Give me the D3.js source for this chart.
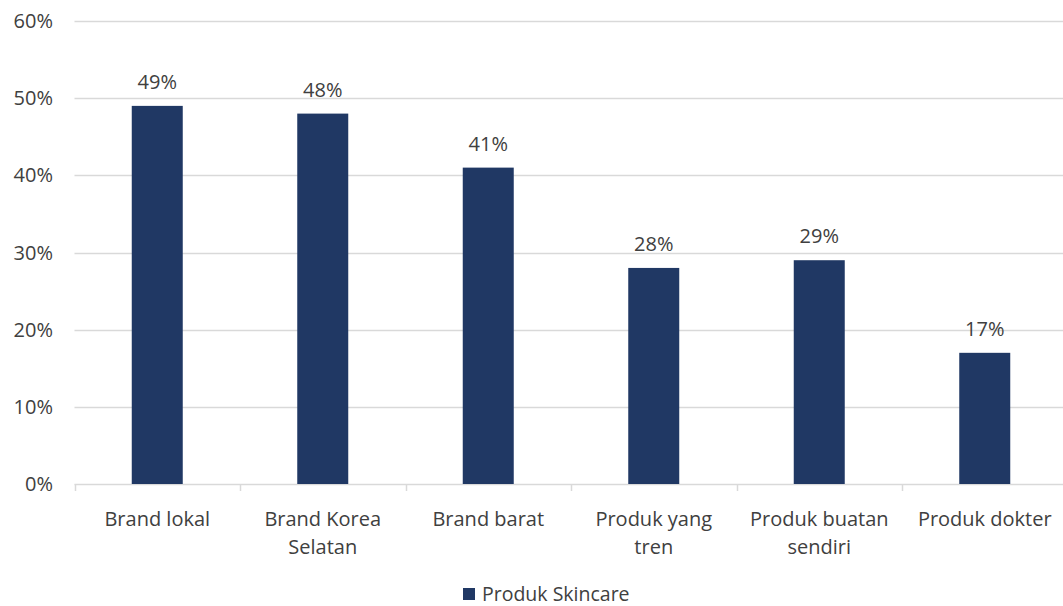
<!DOCTYPE html>
<html lang="id">
<head>
  <meta charset="UTF-8">
  <title>Produk Skincare</title>
  <script src="https://d3js.org/d3.v7.min.js"></script>
  <style>
    body { margin: 0; background: #fff; font-family: "Open Sans", sans-serif; }
    svg { display: block; overflow: hidden; }
    .axis text, .label, .legend text { fill: #404040; font-size: 20px; }
  </style>
</head>
<body>
  <div id="chart"></div>

  <script>
    // data
    const categories = [["Brand lokal"], ["Brand Korea", "Selatan"], ["Brand barat"],
                        ["Produk yang", "tren"], ["Produk buatan", "sendiri"], ["Produk dokter"]];
    const values = [49, 48, 41, 28, 29, 17];
    const yTicks = [0, 10, 20, 30, 40, 50, 60];
    const seriesName = "Produk Skincare";

    const W = 1063, H = 606;
    const color = "#203864";

    const svg = d3.select("#chart").append("svg")
                  .attr("width", W)
                  .attr("height", H);

    const x = d3.scaleBand()
                .domain(d3.range(categories.length))
                .range([74.5, 1067.5]);

    const y = d3.scaleLinear()
                .domain([0, 60])
                .range([484, 21]);

    // gridlines
    svg.selectAll(".grid")
       .data(yTicks)
       .enter()
       .append("line")
       .attr("x1", 74.5)
       .attr("x2", 1067.5)
       .attr("y1", d => Math.round(y(d)) + 0.5)
       .attr("y2", d => Math.round(y(d)) + 0.5)
       .attr("stroke", "#d9d9d9")
       .attr("stroke-width", 1.5);

    // y labels
    svg.append("g")
       .attr("class", "axis")
       .selectAll("text")
       .data(yTicks)
       .enter()
       .append("text")
       .attr("x", 53)
       .attr("y", d => y(d))
       .attr("dy", "0.35em")
       .attr("text-anchor", "end")
       .text(d => d + "%");

    // x tick marks
    svg.selectAll(".xtick")
       .data(d3.range(categories.length + 1))
       .enter()
       .append("line")
       .attr("x1", i => Math.round(74.5 + i * x.step()) + 0.5)
       .attr("x2", i => Math.round(74.5 + i * x.step()) + 0.5)
       .attr("y1", 484)
       .attr("y2", 491)
       .attr("stroke", "#d9d9d9")
       .attr("stroke-width", 1.5);

    // bars
    const barW = 51;
    svg.selectAll(".bar")
       .data(values)
       .enter()
       .append("rect")
       .attr("class", "bar")
       .attr("x", (d, i) => x(i) + x.bandwidth() / 2 - barW / 2)
       .attr("y", d => y(d))
       .attr("width", barW)
       .attr("height", d => y(0) - y(d))
       .attr("fill", color);

    // value labels
    svg.selectAll(".label")
       .data(values)
       .enter()
       .append("text")
       .attr("class", "label")
       .attr("x", (d, i) => x(i) + x.bandwidth() / 2)
       .attr("y", d => y(d) - 17)
       .attr("text-anchor", "middle")
       .text(d => d + "%");

    // category labels
    const xl = svg.append("g").attr("class", "axis")
                  .selectAll("text")
                  .data(categories)
                  .enter()
                  .append("text")
                  .attr("x", (d, i) => x(i) + x.bandwidth() / 2)
                  .attr("y", 526)
                  .attr("text-anchor", "middle");
    xl.selectAll("tspan")
      .data(d => d)
      .enter()
      .append("tspan")
      .attr("x", function () { return this.parentNode.getAttribute("x"); })
      .attr("dy", (d, i) => i === 0 ? 0 : 28)
      .text(d => d);

    // legend
    const lg = svg.append("g").attr("class", "legend");
    lg.append("rect")
      .attr("x", 463)
      .attr("y", 588)
      .attr("width", 12)
      .attr("height", 12)
      .attr("fill", color);
    lg.append("text")
      .attr("x", 482)
      .attr("y", 594)
      .attr("dy", "0.35em")
      .style("font-size", "19.5px")
      .text(seriesName);
  </script>
</body>
</html>
